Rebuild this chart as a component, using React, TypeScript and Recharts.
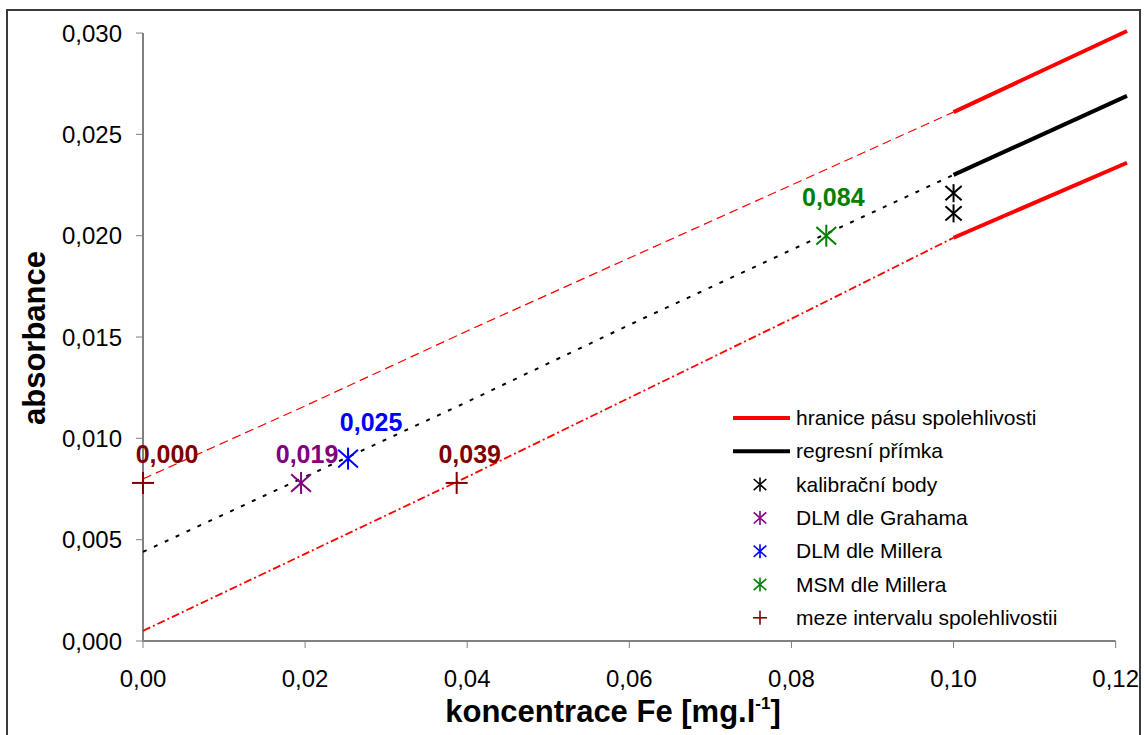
import {
  ComposedChart,
  Line,
  Scatter,
  XAxis,
  YAxis,
  ReferenceLine,
  Label,
} from "recharts";

// confidence band + regression line
const bandX = [0, 0.02, 0.04, 0.06, 0.08, 0.1];
const upperBandY = [0.008, 0.0116, 0.0153, 0.0189, 0.0225, 0.0261];
const regressionY = [0.0044, 0.0081, 0.0118, 0.0156, 0.0193, 0.023];
const lowerBandY = [0.0005, 0.0043, 0.0081, 0.012, 0.0159, 0.0199];

// solid part beyond the last calibration point
const extX = [0.1, 0.1214];
const upperExtY = [0.0261, 0.0301];
const regressionExtY = [0.023, 0.0269];
const lowerExtY = [0.0199, 0.0236];

// points
const calibX = [0.1, 0.1];
const calibY = [0.0211, 0.0221];
const grahamX = [0.0195];
const grahamY = [0.0078];
const grahamLabels = ["0,019"];
const millerX = [0.0253];
const millerY = [0.009];
const millerLabels = ["0,025"];
const msmX = [0.0843];
const msmY = [0.02];
const msmLabels = ["0,084"];
const mezeX = [0, 0.0387];
const mezeY = [0.0078, 0.0078];
const mezeLabels = ["0,000", "0,039"];

const xTicks = [0, 0.02, 0.04, 0.06, 0.08, 0.1, 0.12];
const yTicks = [0, 0.005, 0.01, 0.015, 0.02, 0.025, 0.03];

const legendItems = [
  { name: "hranice pásu spolehlivosti", color: "#ff0000", kind: "line" },
  { name: "regresní přímka", color: "#000000", kind: "line" },
  { name: "kalibrační body", color: "#000000", kind: "star" },
  { name: "DLM dle Grahama", color: "#800080", kind: "star" },
  { name: "DLM dle Millera", color: "#0000ff", kind: "star" },
  { name: "MSM dle Millera", color: "#008000", kind: "star" },
  { name: "meze intervalu spolehlivostii", color: "#800000", kind: "plus" },
];

const pts = (xs: number[], ys: number[], labels?: string[]) =>
  xs.map((x, i) => ({ x, y: ys[i], label: labels ? labels[i] : "" }));

const FONT = "'Liberation Sans', Arial, sans-serif";

function Star({ cx, cy, s, color, sw }: any) {
  const dx = s * 0.9;
  const dy = s * 0.8;
  return (
    <g stroke={color} strokeWidth={sw}>
      <line x1={cx} y1={cy - s} x2={cx} y2={cy + s} />
      <line x1={cx - dx} y1={cy - dy} x2={cx + dx} y2={cy + dy} />
      <line x1={cx - dx} y1={cy + dy} x2={cx + dx} y2={cy - dy} />
    </g>
  );
}

function Plus({ cx, cy, s, color, sw }: any) {
  return (
    <g stroke={color} strokeWidth={sw}>
      <line x1={cx - s} y1={cy} x2={cx + s} y2={cy} />
      <line x1={cx} y1={cy - s} x2={cx} y2={cy + s} />
    </g>
  );
}

function PointLabel({ x, y, text, color }: any) {
  if (!text) return null;
  return (
    <text x={x} y={y} textAnchor="middle" fill={color} fontFamily={FONT} fontWeight="bold" fontSize={25}>
      {text}
    </text>
  );
}

const starShape = (color: string, s: number, sw: number, dx: number, dy: number) => (props: any) => {
  const { cx, cy, payload } = props;
  return (
    <g>
      <Star cx={cx} cy={cy} s={s} color={color} sw={sw} />
      <PointLabel x={cx + dx} y={cy + dy} text={payload.label} color={color} />
    </g>
  );
};

const plusShape = (props: any) => {
  const { cx, cy, payload } = props;
  const dx = payload.x === 0 ? 24 : 13;
  return (
    <g>
      <Plus cx={cx} cy={cy} s={11} color="#800000" sw={2} />
      <PointLabel x={cx + dx} y={cy - 20} text={payload.label} color="#800000" />
    </g>
  );
};

function ChartLegend() {
  const pitch = 33.3;
  return (
    <svg width={380} height={240} style={{ display: "block" }}>
      {legendItems.map((it, i) => {
        const y = 18 + i * pitch;
        return (
          <g key={it.name}>
            {it.kind === "line" && (
              <line x1={8} x2={65} y1={y} y2={y} stroke={it.color} strokeWidth={4} />
            )}
            {it.kind === "star" && <Star cx={35} cy={y} s={7} color={it.color} sw={1.6} />}
            {it.kind === "plus" && <Plus cx={35} cy={y} s={7} color={it.color} sw={1.6} />}
            <text x={71} y={y + 7} fontFamily={FONT} fontSize={21} fill="#000">
              {it.name}
            </text>
          </g>
        );
      })}
    </svg>
  );
}

const fmtX = (v: number) => v.toFixed(2).replace(".", ",");
const fmtY = (v: number) => v.toFixed(3).replace(".", ",");

function XTitle(props: any) {
  const { viewBox } = props;
  const cx = viewBox.x + viewBox.width / 2 - 22;
  return (
    <text x={cx} y={viewBox.y + 81} textAnchor="middle" fontFamily={FONT} fontWeight="bold" fontSize={31} fill="#000">
      <tspan>koncentrace Fe [mg.l</tspan>
      <tspan dy={-13} fontSize={17}>-1</tspan>
      <tspan dy={13}>]</tspan>
    </text>
  );
}

function YTitle(props: any) {
  const { viewBox } = props;
  const cy = viewBox.y + viewBox.height / 2 + 3;
  return (
    <text
      x={45}
      y={cy}
      transform={`rotate(-90 45 ${cy})`}
      textAnchor="middle"
      fontFamily={FONT}
      fontWeight="bold"
      fontSize={31}
      fill="#000"
    >
      absorbance
    </text>
  );
}

export default function App() {
  const tick = { fontFamily: FONT, fontSize: 24, fill: "#000" };
  return (
    <div style={{ position: "fixed", left: 0, top: 0, width: 1145, height: 735, overflow: "hidden", background: "#fff" }}>
      <div
        style={{
          position: "absolute",
          left: 6,
          top: 9,
          width: 1135,
          height: 740,
          border: "2px solid #3a3a3a",
          boxSizing: "border-box",
        }}
      />
      <div style={{ position: "absolute", left: 0, top: 0 }}>
        <ComposedChart width={1145} height={735} margin={{ top: 29, right: 18, bottom: 0, left: 0 }}>
          <XAxis
            type="number"
            dataKey="x"
            domain={[0, 0.1214]}
            ticks={xTicks}
            tickFormatter={fmtX}
            axisLine={false}
            tickLine={{ stroke: "#808080" }}
            tickSize={7}
            tickMargin={22}
            tick={tick}
            height={94}
            interval={0}
          >
            <Label content={XTitle} />
          </XAxis>
          <YAxis
            type="number"
            dataKey="y"
            domain={[0, 0.0302]}
            ticks={yTicks}
            tickFormatter={fmtY}
            axisLine={false}
            tickLine={{ stroke: "#808080" }}
            tickSize={7}
            tickMargin={14}
            tick={tick}
            width={143}
            interval={0}
          >
            <Label content={YTitle} />
          </YAxis>
          <ReferenceLine segment={[{ x: 0, y: 0 }, { x: 0.12, y: 0 }]} stroke="#808080" strokeWidth={2} />
          <ReferenceLine segment={[{ x: 0, y: 0 }, { x: 0, y: 0.03 }]} stroke="#808080" strokeWidth={2} />

          <Line data={pts(bandX, upperBandY)} dataKey="y" stroke="#ff0000" strokeWidth={1.2} strokeDasharray="9 5" dot={false} isAnimationActive={false} />
          <Line data={pts(bandX, regressionY)} dataKey="y" stroke="#000" strokeWidth={2} strokeDasharray="4 8" dot={false} isAnimationActive={false} />
          <Line data={pts(bandX, lowerBandY)} dataKey="y" stroke="#ff0000" strokeWidth={1.8} strokeDasharray="8 3 2 3" dot={false} isAnimationActive={false} />
          <Line data={pts(extX, upperExtY)} dataKey="y" stroke="#ff0000" strokeWidth={4} dot={false} isAnimationActive={false} />
          <Line data={pts(extX, regressionExtY)} dataKey="y" stroke="#000" strokeWidth={4} dot={false} isAnimationActive={false} />
          <Line data={pts(extX, lowerExtY)} dataKey="y" stroke="#ff0000" strokeWidth={4} dot={false} isAnimationActive={false} />

          <Scatter data={pts(calibX, calibY)} dataKey="y" shape={starShape("#000", 9, 2, 0, 0)} isAnimationActive={false} />
          <Scatter data={pts(grahamX, grahamY, grahamLabels)} dataKey="y" shape={starShape("#800080", 11, 2, 6, -20)} isAnimationActive={false} />
          <Scatter data={pts(millerX, millerY, millerLabels)} dataKey="y" shape={starShape("#0000ff", 11, 2, 23, -28)} isAnimationActive={false} />
          <Scatter data={pts(msmX, msmY, msmLabels)} dataKey="y" shape={starShape("#008000", 11, 2, 7, -30)} isAnimationActive={false} />
          <Scatter data={pts(mezeX, mezeY, mezeLabels)} dataKey="y" shape={plusShape} isAnimationActive={false} />
        </ComposedChart>
      </div>
      <div style={{ position: "absolute", left: 725, top: 400 }}>
        <ChartLegend />
      </div>
    </div>
  );
}
